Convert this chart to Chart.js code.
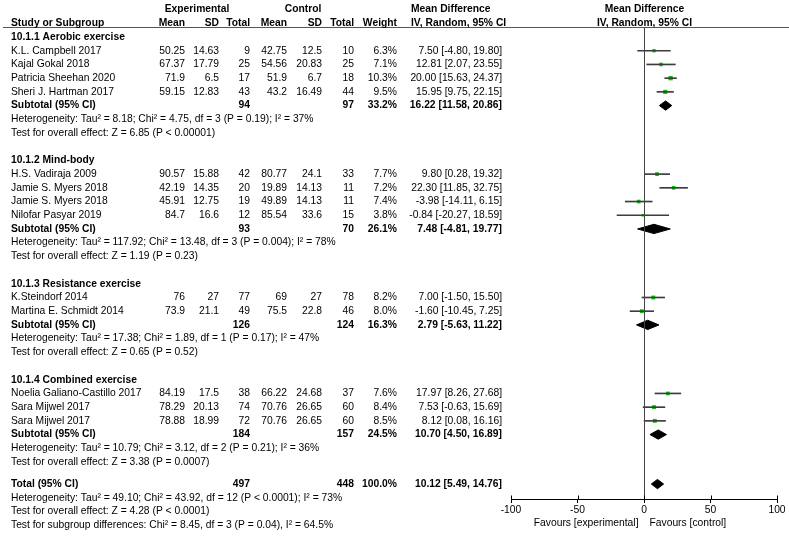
<!DOCTYPE html>
<html>
<head>
<meta charset="utf-8">
<script src="https://cdn.jsdelivr.net/npm/chart.js@4.4.0/dist/chart.umd.min.js"></script>
<style>
  html, body { margin: 0; padding: 0; background: #fff; }
  #wrap { width: 789px; height: 537px; position: relative; }
</style>
</head>
<body>
<div id="wrap"><canvas id="forest"></canvas></div>
<script>
// ---- data ----
const groupNames = ['10.1.1 Aerobic exercise', '10.1.2 Mind-body', '10.1.3 Resistance exercise', '10.1.4 Combined exercise'];

const studyNames = ['K.L. Campbell 2017', 'Kajal Gokal 2018', 'Patricia Sheehan 2020', 'Sheri J. Hartman 2017',
  'H.S. Vadiraja 2009', 'Jamie S. Myers 2018', 'Jamie S. Myers 2018', 'Nilofar Pasyar 2019',
  'K.Steindorf 2014', 'Martina E. Schmidt 2014',
  'Noelia Galiano-Castillo 2017', 'Sara Mijwel 2017', 'Sara Mijwel 2017'];
const studyGroup = [0, 0, 0, 0, 1, 1, 1, 1, 2, 2, 3, 3, 3];
const expMean = [50.25, 67.37, 71.9, 59.15, 90.57, 42.19, 45.91, 84.7, 76, 73.9, 84.19, 78.29, 78.88];
const expSD = [14.63, 17.79, 6.5, 12.83, 15.88, 14.35, 12.75, 16.6, 27, 21.1, 17.5, 20.13, 18.99];
const expN = [9, 25, 17, 43, 42, 20, 19, 12, 77, 49, 38, 74, 72];
const ctlMean = [42.75, 54.56, 51.9, 43.2, 80.77, 19.89, 49.89, 85.54, 69, 75.5, 66.22, 70.76, 70.76];
const ctlSD = [12.5, 20.83, 6.7, 16.49, 24.1, 14.13, 14.13, 33.6, 27, 22.8, 24.68, 26.65, 26.65];
const ctlN = [10, 25, 18, 44, 33, 11, 11, 15, 78, 46, 37, 60, 60];
const weights = [6.3, 7.1, 10.3, 9.5, 7.7, 7.2, 7.4, 3.8, 8.2, 8.0, 7.6, 8.4, 8.5];
const md = [7.50, 12.81, 20.00, 15.95, 9.80, 22.30, -3.98, -0.84, 7.00, -1.60, 17.97, 7.53, 8.12];
const ciLow = [-4.80, 2.07, 15.63, 9.75, 0.28, 11.85, -14.11, -20.27, -1.50, -10.45, 8.26, -0.63, 0.08];
const ciHigh = [19.80, 23.55, 24.37, 22.15, 19.32, 32.75, 6.15, 18.59, 15.50, 7.25, 27.68, 15.69, 16.16];

const subExpN = [94, 93, 126, 184];
const subCtlN = [97, 70, 124, 157];
const subWeight = [33.2, 26.1, 16.3, 24.5];
const subMd = [16.22, 7.48, 2.79, 10.70];
const subLow = [11.58, -4.81, -5.63, 4.50];
const subHigh = [20.86, 19.77, 11.22, 16.89];
const subHet = [
  'Heterogeneity: Tau² = 8.18; Chi² = 4.75, df = 3 (P = 0.19); I² = 37%',
  'Heterogeneity: Tau² = 117.92; Chi² = 13.48, df = 3 (P = 0.004); I² = 78%',
  'Heterogeneity: Tau² = 17.38; Chi² = 1.89, df = 1 (P = 0.17); I² = 47%',
  'Heterogeneity: Tau² = 10.79; Chi² = 3.12, df = 2 (P = 0.21); I² = 36%'];
const subTest = [
  'Test for overall effect: Z = 6.85 (P < 0.00001)',
  'Test for overall effect: Z = 1.19 (P = 0.23)',
  'Test for overall effect: Z = 0.65 (P = 0.52)',
  'Test for overall effect: Z = 3.38 (P = 0.0007)'];

const totalExpN = 497, totalCtlN = 448, totalWeight = 100.0;
const totalMd = 10.12, totalLow = 5.49, totalHigh = 14.76;
const totalNotes = [
  'Heterogeneity: Tau² = 49.10; Chi² = 43.92, df = 12 (P < 0.0001); I² = 73%',
  'Test for overall effect: Z = 4.28 (P < 0.0001)',
  'Test for subgroup differences: Chi² = 8.45, df = 3 (P = 0.04), I² = 64.5%'];

const xTicks = [-100, -50, 0, 50, 100];

// ---- layout (row units) ----
const FONT = '"Liberation Sans", Arial, sans-serif';
const SIZE = 10.3;
const col = { name: 11, expMean: 185, expSD: 219, expN: 250, ctlMean: 287, ctlSD: 322, ctlN: 354, weight: 397, md: 502, mdHead: 411 };
const totalGap = 1.61;
const halfDiamond = 0.34;

let p = 2;
const groupRow = [], studyRow = [], subRow = [];
groupNames.forEach((g, gi) => {
  groupRow.push(p); p++;
  studyGroup.forEach((sg, i) => { if (sg === gi) { studyRow[i] = p; p++; } });
  subRow.push(p);
  p += 4;
});
const totalRow = p - 2 + totalGap;

function diamond(lo, m, hi, r) {
  return [{ x: lo, y: r }, { x: m, y: r - halfDiamond }, { x: hi, y: r }, { x: m, y: r + halfDiamond }, { x: lo, y: r }];
}

const datasets = [
  {
    type: 'bar',
    indexAxis: 'y',
    data: md.map((m, i) => ({ x: [ciLow[i], ciHigh[i]], y: studyRow[i] })),
    backgroundColor: '#3c3c3c',
    barThickness: 1,
    grouped: false
  },
  {
    type: 'scatter',
    data: md.map((m, i) => ({ x: m, y: studyRow[i] })),
    pointStyle: 'rect',
    pointRadius: ctx => Math.sqrt(weights[ctx.dataIndex]) * 0.95,
    backgroundColor: '#00c800',
    borderWidth: 0
  }
];
subMd.forEach((m, g) => {
  datasets.push({
    type: 'scatter', showLine: true, fill: 'shape', tension: 0,
    data: diamond(subLow[g], m, subHigh[g], subRow[g]),
    backgroundColor: '#000', borderColor: '#000', borderWidth: 1, pointRadius: 0
  });
});
datasets.push({
  type: 'scatter', showLine: true, fill: 'shape', tension: 0,
  data: diamond(totalLow, totalMd, totalHigh, totalRow),
  backgroundColor: '#000', borderColor: '#000', borderWidth: 1, pointRadius: 0
});

const tablePlugin = {
  id: 'forestTable',
  afterDraw(chart) {
    const ctx = chart.ctx;
    const xs = chart.scales.x, ys = chart.scales.y;
    const Y = r => ys.getPixelForValue(r);
    const bottom = chart.chartArea.bottom;
    const x0 = Math.round(xs.getPixelForValue(0)) + 0.5;

    function txt(s, x, r, align, bold) {
      ctx.font = (bold ? 'bold ' : '') + SIZE + 'px ' + FONT;
      ctx.textAlign = align;
      ctx.textBaseline = 'middle';
      ctx.fillStyle = '#000';
      ctx.fillText(s, x, typeof r === 'number' ? Y(r) : r.y);
    }
    const ci = (m, lo, hi) => m.toFixed(2) + ' [' + lo.toFixed(2) + ', ' + hi.toFixed(2) + ']';

    ctx.save();
    // header line
    const hy = Math.round(Y(1.28)) + 0.5;
    ctx.strokeStyle = '#555';
    ctx.lineWidth = 1;
    ctx.beginPath(); ctx.moveTo(3, hy); ctx.lineTo(789, hy); ctx.stroke();
    // zero line
    ctx.strokeStyle = '#444';
    ctx.beginPath(); ctx.moveTo(x0, hy); ctx.lineTo(x0, bottom); ctx.stroke();
    // upper tick stubs
    ctx.strokeStyle = '#000';
    xs.ticks.forEach(t => {
      const tx = Math.round(xs.getPixelForValue(t.value)) + 0.5;
      ctx.beginPath(); ctx.moveTo(tx, bottom - 3.5); ctx.lineTo(tx, bottom); ctx.stroke();
    });

    // headers
    txt('Experimental', 197, 0, 'center', true);
    txt('Control', 303, 0, 'center', true);
    txt('Mean Difference', col.mdHead, 0, 'left', true);
    txt('Mean Difference', x0, 0, 'center', true);
    txt('Study or Subgroup', col.name, 1, 'left', true);
    txt('Mean', col.expMean, 1, 'right', true);
    txt('SD', col.expSD, 1, 'right', true);
    txt('Total', col.expN, 1, 'right', true);
    txt('Mean', col.ctlMean, 1, 'right', true);
    txt('SD', col.ctlSD, 1, 'right', true);
    txt('Total', col.ctlN, 1, 'right', true);
    txt('Weight', col.weight, 1, 'right', true);
    txt('IV, Random, 95% CI', col.mdHead, 1, 'left', true);
    txt('IV, Random, 95% CI', x0, 1, 'center', true);

    groupNames.forEach((g, gi) => {
      txt(g, col.name, groupRow[gi], 'left', true);
      const sr = subRow[gi];
      txt('Subtotal (95% CI)', col.name, sr, 'left', true);
      txt(String(subExpN[gi]), col.expN, sr, 'right', true);
      txt(String(subCtlN[gi]), col.ctlN, sr, 'right', true);
      txt(subWeight[gi].toFixed(1) + '%', col.weight, sr, 'right', true);
      txt(ci(subMd[gi], subLow[gi], subHigh[gi]), col.md, sr, 'right', true);
      txt(subHet[gi], col.name, sr + 1, 'left', false);
      txt(subTest[gi], col.name, sr + 2, 'left', false);
    });

    studyNames.forEach((n, i) => {
      const r = studyRow[i];
      txt(n, col.name, r, 'left', false);
      txt(String(expMean[i]), col.expMean, r, 'right', false);
      txt(String(expSD[i]), col.expSD, r, 'right', false);
      txt(String(expN[i]), col.expN, r, 'right', false);
      txt(String(ctlMean[i]), col.ctlMean, r, 'right', false);
      txt(String(ctlSD[i]), col.ctlSD, r, 'right', false);
      txt(String(ctlN[i]), col.ctlN, r, 'right', false);
      txt(weights[i].toFixed(1) + '%', col.weight, r, 'right', false);
      txt(ci(md[i], ciLow[i], ciHigh[i]), col.md, r, 'right', false);
    });

    txt('Total (95% CI)', col.name, totalRow, 'left', true);
    txt(String(totalExpN), col.expN, totalRow, 'right', true);
    txt(String(totalCtlN), col.ctlN, totalRow, 'right', true);
    txt(totalWeight.toFixed(1) + '%', col.weight, totalRow, 'right', true);
    txt(ci(totalMd, totalLow, totalHigh), col.md, totalRow, 'right', true);
    totalNotes.forEach((s, k) => txt(s, col.name, totalRow + 1 + k, 'left', false));

    // favours labels
    txt('Favours [experimental]', x0 - 6, { y: bottom + 24 }, 'right', false);
    txt('Favours [control]', x0 + 5, { y: bottom + 24 }, 'left', false);
    ctx.restore();
  }
};

new Chart(document.getElementById('forest'), {
  type: 'scatter',
  data: { datasets },
  options: {
    responsive: true,
    maintainAspectRatio: false,
    animation: false,
    events: [],
    layout: { padding: { left: 511, right: 12, top: 0, bottom: 0 } },
    plugins: { legend: { display: false }, tooltip: { enabled: false } },
    scales: {
      x: {
        type: 'linear', min: -100, max: 100, offset: false,
        afterBuildTicks: scale => { scale.ticks = xTicks.map(v => ({ value: v })); },
        afterFit: scale => { scale.height = 38; },
        ticks: { font: { family: FONT, size: SIZE }, color: '#000', padding: 1 },
        grid: { display: true, drawOnChartArea: false, drawTicks: true, tickLength: 4, color: '#000' },
        border: { display: true, color: '#000' }
      },
      y: {
        type: 'linear', reverse: true, min: -0.41, max: 35.7, offset: false, display: false
      }
    }
  },
  plugins: [tablePlugin]
});
</script>
</body>
</html>
